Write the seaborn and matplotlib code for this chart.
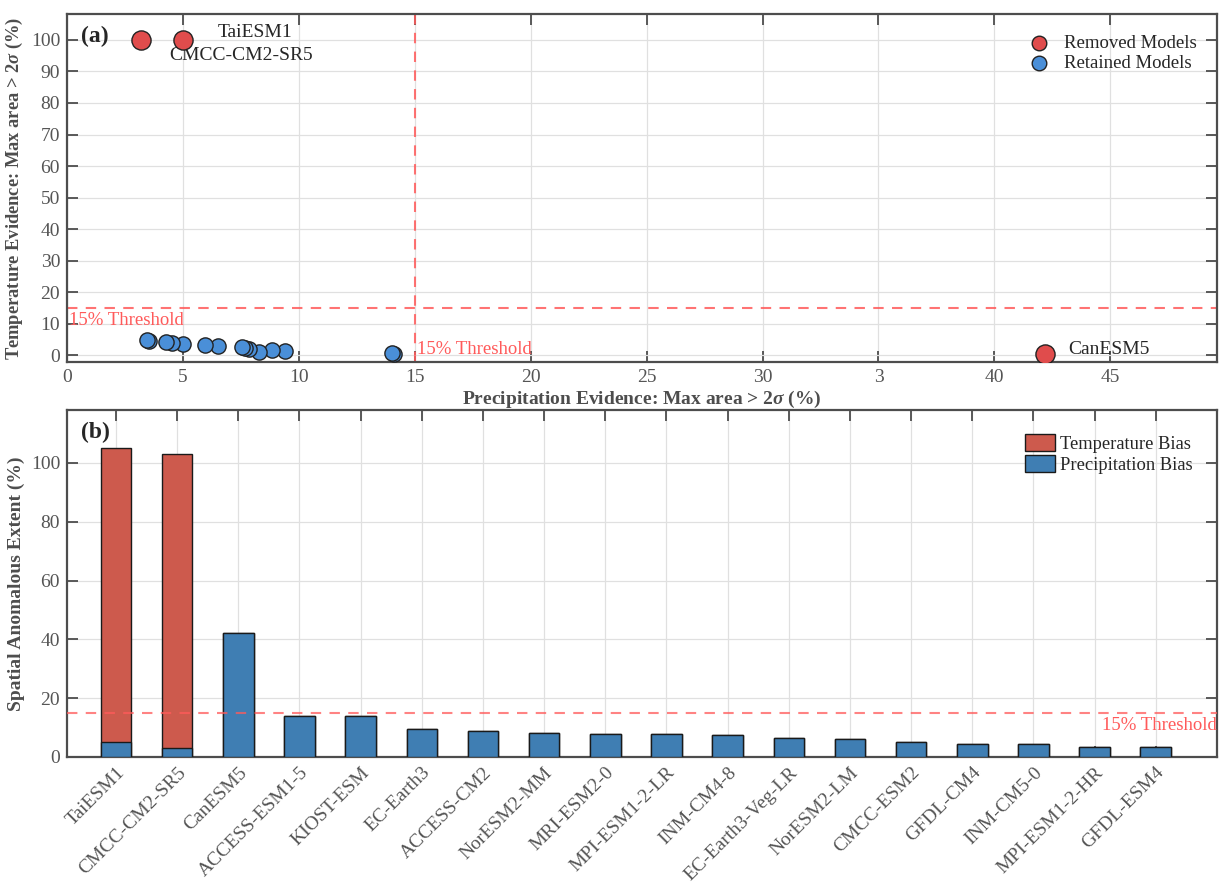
import numpy as np
import pandas as pd
import matplotlib
matplotlib.use("Agg")
import matplotlib.pyplot as plt
import seaborn as sns

# model order as in panel (b)
models = ["TaiESM1", "CMCC-CM2-SR5", "CanESM5", "ACCESS-ESM1-5", "KIOST-ESM",
          "EC-Earth3", "ACCESS-CM2", "NorESM2-MM", "MRI-ESM2-0", "MPI-ESM1-2-LR",
          "INM-CM4-8", "EC-Earth3-Veg-LR", "NorESM2-LM", "CMCC-ESM2", "GFDL-CM4",
          "INM-CM5-0", "MPI-ESM1-2-HR", "GFDL-ESM4"]
# max area > 2 sigma (%)
precip_area = [5.0, 3.2, 42.2, 14.1, 14.0, 9.4, 8.84, 8.28, 7.84, 7.67,
               7.54, 6.5, 5.95, 5.0, 4.53, 4.27, 3.53, 3.45]
temp_area = [100.0, 100.0, 0.2, 0.2, 0.7, 1.3, 1.5, 0.9, 1.8, 2.1,
             2.6, 2.95, 3.3, 3.6, 3.9, 4.2, 4.5, 4.8]
removed = ["TaiESM1", "CMCC-CM2-SR5", "CanESM5"]
threshold = 15

df = pd.DataFrame({"model": models, "precip": precip_area, "temp": temp_area})
df["removed"] = df["model"].isin(removed)
# the bar chart only stacks the temperature part for the models removed on temperature
df["temp_bar"] = np.where(df["temp"] > threshold, df["temp"], 0.0)
df["total"] = df["precip"] + df["temp_bar"]

sns.set_theme(style="ticks")
plt.rcParams["font.family"] = ["Liberation Serif", "DejaVu Serif"]
plt.rcParams["mathtext.fontset"] = "custom"
plt.rcParams["mathtext.rm"] = "Liberation Serif"
plt.rcParams["mathtext.it"] = "Liberation Serif:italic:bold"
plt.rcParams["mathtext.bf"] = "Liberation Serif:bold"

edge = "#4d4d4d"
tick_col = "#555555"
thr_col = "#ff5a5a"

fig = plt.figure(figsize=(12.28, 8.84), dpi=100)
ax1 = fig.add_axes([0.0546, 0.5905, 0.9364, 0.3935])
ax2 = fig.add_axes([0.0546, 0.1437, 0.9364, 0.3925])

# ---- panel (a) scatter
keep = df[~df["removed"]]
gone = df[df["removed"]]
sns.scatterplot(data=gone, x="precip", y="temp", ax=ax1, color="#e04c4c", s=190,
                edgecolor="#222222", linewidth=1.0, label="Removed Models", zorder=4)
sns.scatterplot(data=keep, x="precip", y="temp", ax=ax1, color="#4a8fd8", s=120,
                edgecolor="#222222", linewidth=1.0, label="Retained Models", zorder=4)
ax1.axhline(threshold, color=thr_col, ls=(0, (5, 4)), lw=1.5, alpha=0.85, zorder=2)
ax1.axvline(threshold, color=thr_col, ls=(0, (5, 4)), lw=1.5, alpha=0.85, zorder=2)
ax1.text(0.1, 13.8, "15% Threshold", color=thr_col, fontsize=13.5, va="top", ha="left")
ax1.text(15.1, -1.0, "15% Threshold", color=thr_col, fontsize=13.5, va="bottom", ha="left")
ax1.text(6.5, 102.5, "TaiESM1", fontsize=14, va="center")
ax1.text(4.4, 95, "CMCC-CM2-SR5", fontsize=14, va="center")
ax1.text(43.2, 1.8, "CanESM5", fontsize=14, va="center")
ax1.text(0.012, 0.965, "(a)", transform=ax1.transAxes, fontsize=17, fontweight="bold",
         va="top", ha="left")
ax1.set_xlim(0, 49.6)
ax1.set_ylim(-2.2, 108.2)
ax1.set_xticks(np.arange(0, 50, 5))
ax1.set_xticklabels(["0", "5", "10", "15", "20", "25", "30", "3", "40", "45"])
ax1.set_yticks(np.arange(0, 101, 10))
ax1.set_xlabel(r"Precipitation Evidence: Max area > 2$\sigma$ (%)", fontsize=14,
               fontweight="bold", color=edge, labelpad=2)
ax1.set_ylabel(r"Temperature Evidence: Max area > 2$\sigma$ (%)", fontsize=13.3,
               fontweight="bold", color=edge, labelpad=4)
leg = ax1.legend(loc="upper right", frameon=False, fontsize=13.5, handletextpad=0.3,
                 borderaxespad=0.7, labelspacing=0.15)
for h in leg.legend_handles:
    h.set_sizes([110])

# ---- panel (b) stacked bars
sns.barplot(data=df, x="model", y="total", ax=ax2, color="#cd5a4d", width=0.5,
            edgecolor="#1a1a1a", linewidth=1.0, saturation=1, label="Temperature Bias", zorder=3)
sns.barplot(data=df, x="model", y="precip", ax=ax2, color="#3f7eb3", width=0.5,
            edgecolor="#1a1a1a", linewidth=1.0, saturation=1, label="Precipitation Bias", zorder=3)
ax2.axhline(threshold, color=thr_col, ls=(0, (5, 4)), lw=1.5, alpha=0.75, zorder=4)
ax2.text(18.0, 13.5, "15% Threshold", color=thr_col, fontsize=13.5, va="top", ha="right")
ax2.text(0.012, 0.965, "(b)", transform=ax2.transAxes, fontsize=17, fontweight="bold",
         va="top", ha="left")
ax2.set_xlim(-0.8, 18.0)
ax2.set_ylim(0, 118)
ax2.set_yticks(np.arange(0, 101, 20))
ax2.set_xticks(range(len(models)))
ax2.set_xticklabels(models, rotation=45, ha="right", rotation_mode="anchor")
ax2.set_xlabel("")
ax2.set_ylabel("Spatial Anomalous Extent (%)", fontsize=14, fontweight="bold",
               color=edge, labelpad=4)
ax2.legend(loc="upper right", frameon=False, fontsize=13.3, handletextpad=0.3,
           borderaxespad=0.9, labelspacing=0.15, handlelength=1.6, handleheight=1.0)

for ax in (ax1, ax2):
    ax.grid(True, color="#e0e0e0", lw=0.9, zorder=0)
    ax.set_axisbelow(True)
    for sp in ax.spines.values():
        sp.set_visible(True)
        sp.set_color(edge)
        sp.set_linewidth(1.6)
    ax.tick_params(direction="in", top=True, right=True, length=8, width=1.3,
                   color=edge, labelcolor=tick_col, labelsize=14, pad=5)

fig.savefig("out.png", dpi=100)
